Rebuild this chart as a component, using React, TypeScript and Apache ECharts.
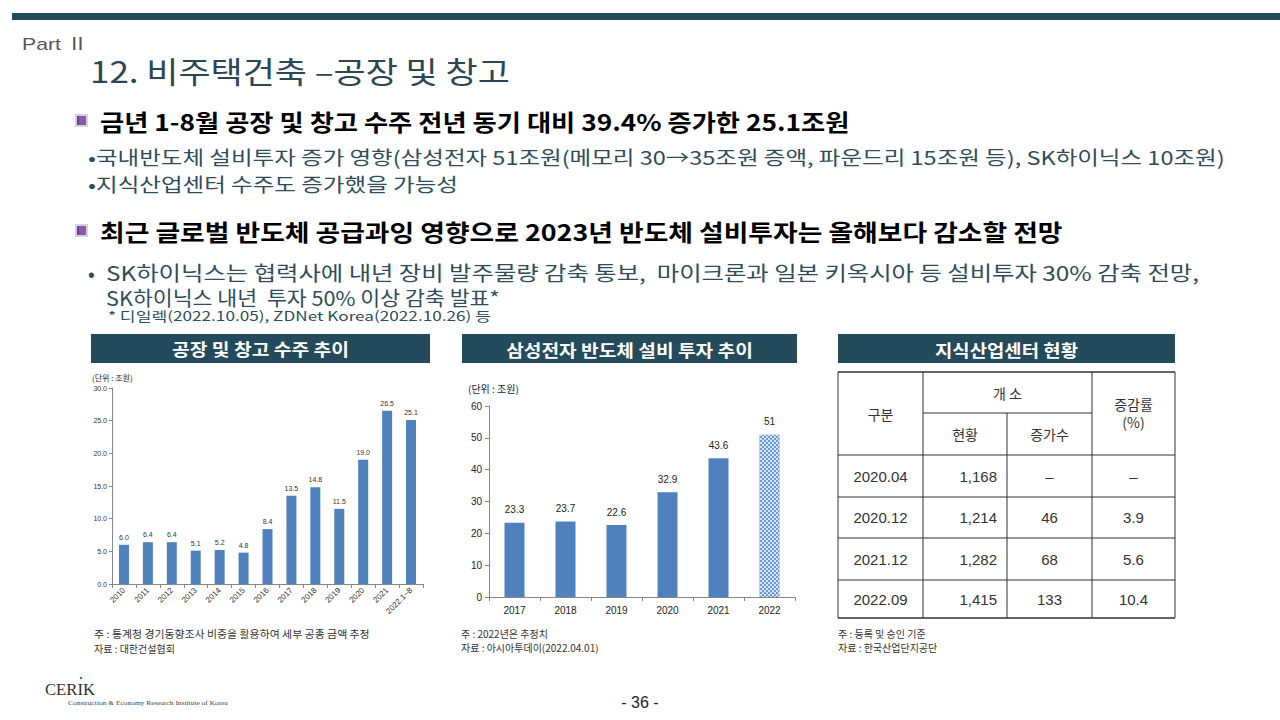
import React, { useEffect, useRef } from 'react';
import * as echarts from 'echarts';

// ---------- data ----------
const factoryCategories = ['2010', '2011', '2012', '2013', '2014', '2015', '2016', '2017', '2018', '2019', '2020', '2021', '2022.1~8'];
const factoryValues = [6.0, 6.4, 6.4, 5.1, 5.2, 4.8, 8.4, 13.5, 14.8, 11.5, 19.0, 26.5, 25.1];
const factoryAxis = { min: 0, max: 30, interval: 5 };

const samsungCategories = ['2017', '2018', '2019', '2020', '2021', '2022'];
const samsungValues = [23.3, 23.7, 22.6, 32.9, 43.6, 51];
const samsungEstimatedIndex = 5;
const samsungAxis = { min: 0, max: 60, interval: 10 };

const centerPeriods = ['2020.04', '2020.12', '2021.12', '2022.09'];
const centerCounts = ['1,168', '1,214', '1,282', '1,415'];
const centerIncrease = ['–', '46', '68', '133'];
const centerRate = ['–', '3.9', '5.6', '10.4'];

// ---------- helpers ----------
const KR = "'Noto Sans CJK KR', 'Noto Sans', sans-serif";
const LAT = "'Liberation Sans', 'Noto Sans CJK KR', sans-serif";
const SERIF = "'Liberation Serif', 'DejaVu Serif', serif";
const TEAL = '#244b5c';

let measureCtx: CanvasRenderingContext2D | null = null;
function measure(text: string, font: string) {
  if (!measureCtx) measureCtx = document.createElement('canvas').getContext('2d');
  measureCtx!.font = font;
  return measureCtx!.measureText(text).width;
}

function fitScale(text: string, size: number, width: number, weight = 'normal', family = KR) {
  const w = measure(text, `${weight} ${size}px ${family}`);
  return w > 0 ? width / w : 1;
}

function txt(text: string, x: number, y: number, o: any = {}) {
  const size = o.size || 12;
  const weight = o.weight || 'normal';
  const family = o.family || KR;
  let scaleX = o.scaleX || 1;
  if (o.width) scaleX = fitScale(text, size, o.width, weight, family);
  return {
    type: 'text',
    x,
    y,
    scaleX,
    z: 100,
    silent: true,
    style: {
      text,
      fontSize: size,
      fontWeight: weight,
      fontFamily: family,
      fill: o.color || '#000',
      align: o.align || 'left',
      verticalAlign: 'middle',
    },
  };
}

function hline(x1: number, x2: number, y: number, w = 1, color = '#333') {
  return { type: 'line', z: 90, silent: true, shape: { x1, y1: y, x2, y2: y }, style: { stroke: color, lineWidth: w } };
}
function vline(x: number, y1: number, y2: number, w = 1, color = '#333') {
  return { type: 'line', z: 90, silent: true, shape: { x1: x, y1, x2: x, y2 }, style: { stroke: color, lineWidth: w } };
}

function buildGraphic() {
  const g: any[] = [];
  // top bar
  g.push({ type: 'rect', shape: { x: 12, y: 13, width: 1268, height: 7 }, style: { fill: TEAL }, silent: true });
  g.push(txt('Part Ⅱ', 22, 44, { size: 17, family: LAT, color: '#555', width: 66 }));
  g.push(txt('12. 비주택건축 –공장 및 창고', 90, 70, { size: 30, color: '#2c4654', width: 420 }));

  // header icons
  const icon = (y: number) => [
    { type: 'rect', silent: true, shape: { x: 75, y: y - 7, width: 13, height: 13 }, style: { fill: '#d9cfe3' } },
    { type: 'rect', silent: true, shape: { x: 77, y: y - 5, width: 9, height: 9 }, style: { fill: '#8a5aa8' } },
    { type: 'rect', silent: true, shape: { x: 77, y: y - 5, width: 2, height: 9 }, style: { fill: '#6d3f8c' } },
  ];
  const subColor = '#2f4c5c';
  g.push(...icon(121));
  g.push(txt('금년 1-8월 공장 및 창고 수주 전년 동기 대비 39.4% 증가한 25.1조원', 100, 121, { size: 23, weight: 'bold', width: 750 }));
  g.push(txt('•국내반도체 설비투자 증가 영향(삼성전자 51조원(메모리 30→35조원 증액, 파운드리 15조원 등), SK하이닉스 10조원)', 88, 157, { size: 19, color: subColor, width: 1137 }));
  g.push(txt('•지식산업센터 수주도 증가했을 가능성', 88, 184, { size: 19, color: subColor, width: 370 }));

  g.push(...icon(231));
  g.push(txt('최근 글로벌 반도체 공급과잉 영향으로 2023년 반도체 설비투자는 올해보다 감소할 전망', 100, 231, { size: 23, weight: 'bold', width: 963 }));
  g.push(txt('•', 88, 272, { size: 20, color: subColor }));
  g.push(txt('SK하이닉스는 협력사에 내년 장비 발주물량 감축 통보,  마이크론과 일본 키옥시아 등 설비투자 30% 감축 전망,', 106, 272, { size: 20, color: subColor, width: 1094 }));
  g.push(txt('SK하이닉스 내년  투자 50% 이상 감축 발표*', 106, 297, { size: 20, color: subColor, width: 394 }));
  g.push(txt('* 디일렉(2022.10.05), ZDNet Korea(2022.10.26) 등', 108, 315, { size: 13, color: subColor, width: 383 }));

  // chart title bars
  const bars = [
    { x: 91, w: 339, t: '공장 및 창고 수주 추이', tw: 177 },
    { x: 462, w: 335, t: '삼성전자 반도체 설비 투자 추이', tw: 247 },
    { x: 838, w: 337, t: '지식산업센터 현황', tw: 143 },
  ];
  bars.forEach((b) => {
    g.push({ type: 'rect', silent: true, shape: { x: b.x, y: 334, width: b.w, height: 29 }, style: { fill: TEAL } });
    g.push(txt(b.t, b.x + b.w / 2, 349, { size: 17, weight: 'bold', color: '#fff', align: 'center', width: b.tw }));
  });

  // unit labels
  g.push(txt('(단위 : 조원)', 92, 377, { size: 8, color: '#222' }));
  g.push(txt('(단위 : 조원)', 468, 388, { size: 10, color: '#222' }));

  // table
  const cx = [838, 923, 1007, 1092, 1175];
  const ry = [372, 413, 455, 497, 538, 580, 618];
  g.push(hline(cx[0], cx[4], ry[0], 1.5));
  [2, 3, 4, 5].forEach((i) => g.push(hline(cx[0], cx[4], ry[i])));
  g.push(hline(cx[0], cx[4], ry[6], 1.5));
  g.push(hline(cx[1], cx[3], ry[1]));
  [0, 1, 3, 4].forEach((i) => g.push(vline(cx[i], ry[0], ry[6])));
  g.push(vline(cx[2], ry[1], ry[6]));

  const tc = '#333';
  g.push(txt('구분', (cx[0] + cx[1]) / 2, (ry[0] + ry[2]) / 2, { size: 14, color: tc, align: 'center' }));
  g.push(txt('개 소', (cx[1] + cx[3]) / 2, (ry[0] + ry[1]) / 2, { size: 14, color: tc, align: 'center' }));
  g.push(txt('증감률', (cx[3] + cx[4]) / 2, 404, { size: 14, color: tc, align: 'center' }));
  g.push(txt('(%)', (cx[3] + cx[4]) / 2, 422, { size: 14, color: tc, align: 'center' }));
  g.push(txt('현황', (cx[1] + cx[2]) / 2, (ry[1] + ry[2]) / 2, { size: 14, color: tc, align: 'center' }));
  g.push(txt('증가수', (cx[2] + cx[3]) / 2, (ry[1] + ry[2]) / 2, { size: 14, color: tc, align: 'center' }));
  centerPeriods.forEach((p, i) => {
    const y = (ry[2 + i] + ry[3 + i]) / 2;
    g.push(txt(p, (cx[0] + cx[1]) / 2, y, { size: 15, family: LAT, color: tc, align: 'center' }));
    g.push(txt(centerCounts[i], cx[2] - 10, y, { size: 15, family: LAT, color: tc, align: 'right' }));
    g.push(txt(centerIncrease[i], (cx[2] + cx[3]) / 2, y, { size: 15, family: LAT, color: tc, align: 'center' }));
    g.push(txt(centerRate[i], (cx[3] + cx[4]) / 2, y, { size: 15, family: LAT, color: tc, align: 'center' }));
  });

  // footnotes
  const fn = '#333';
  g.push(txt('주 : 통계청 경기동향조사 비중을 활용하여 세부 공종 금액 추정', 94, 634, { size: 10, color: fn, width: 276 }));
  g.push(txt('자료 : 대한건설협회', 94, 648, { size: 10, color: fn }));
  g.push(txt('주 : 2022년은 추정치', 461, 633, { size: 10, color: fn }));
  g.push(txt('자료 : 아시아투데이(2022.04.01)', 461, 647, { size: 10, color: fn }));
  g.push(txt('주 : 등록 및 승인 기준', 838, 633, { size: 10, color: fn }));
  g.push(txt('자료 : 한국산업단지공단', 838, 647, { size: 10, color: fn }));

  // logo
  g.push(txt('CERIK', 45, 690, { size: 16, family: SERIF, color: '#333', width: 50 }));
  g.push({ type: 'circle', silent: true, shape: { cx: 81, cy: 678, r: 1.2 }, style: { fill: '#c0392b' } });
  g.push(txt('Construction & Economy Research Institute of Korea', 68, 703, { size: 7, family: SERIF, color: '#444', width: 160 }));

  // page number
  g.push(txt('- 36 -', 640, 702, { size: 16, family: LAT, color: '#222', align: 'center' }));
  return g;
}

export default function App() {
  const ref = useRef<HTMLDivElement>(null);
  useEffect(() => {
    if (!ref.current) return;
    const chart = echarts.init(ref.current, undefined, { renderer: 'svg' });
    const axisColor = '#868686';
    const option: any = {
      animation: false,
      backgroundColor: '#ffffff',
      grid: [
        { left: 112, top: 388, width: 311, height: 196 },
        { left: 489, top: 406, width: 306, height: 191 },
      ],
      xAxis: [
        {
          type: 'category',
          gridIndex: 0,
          data: factoryCategories,
          axisLine: { lineStyle: { color: axisColor } },
          axisTick: { show: true, alignWithLabel: false, length: 4, lineStyle: { color: axisColor } },
          axisLabel: { interval: 0, rotate: 45, fontSize: 8, color: '#333', margin: 5, fontFamily: LAT },
        },
        {
          type: 'category',
          gridIndex: 1,
          data: samsungCategories,
          axisLine: { lineStyle: { color: axisColor } },
          axisTick: { show: true, alignWithLabel: false, length: 4, lineStyle: { color: axisColor } },
          axisLabel: { interval: 0, fontSize: 10, color: '#222', margin: 8, fontFamily: LAT },
        },
      ],
      yAxis: [
        {
          type: 'value',
          gridIndex: 0,
          min: factoryAxis.min,
          max: factoryAxis.max,
          interval: factoryAxis.interval,
          axisLine: { show: true, lineStyle: { color: axisColor } },
          axisTick: { show: true, length: 3, lineStyle: { color: axisColor } },
          splitLine: { show: false },
          axisLabel: { fontSize: 7, color: '#333', margin: 5, fontFamily: LAT, formatter: (v: number) => v.toFixed(1) },
        },
        {
          type: 'value',
          gridIndex: 1,
          min: samsungAxis.min,
          max: samsungAxis.max,
          interval: samsungAxis.interval,
          axisLine: { show: true, lineStyle: { color: axisColor } },
          axisTick: { show: true, length: 4, lineStyle: { color: axisColor } },
          splitLine: { show: false },
          axisLabel: { fontSize: 10, color: '#222', margin: 7, fontFamily: LAT },
        },
      ],
      series: [
        {
          type: 'bar',
          xAxisIndex: 0,
          yAxisIndex: 0,
          data: factoryValues,
          barWidth: 10,
          itemStyle: { color: '#4f81bd' },
          label: {
            show: true,
            position: 'top',
            distance: 4,
            fontSize: 7,
            color: '#333',
            fontFamily: LAT,
            formatter: (p: any) => Number(p.value).toFixed(1),
          },
        },
        {
          type: 'bar',
          xAxisIndex: 1,
          yAxisIndex: 1,
          data: samsungValues.map((v, i) =>
            i === samsungEstimatedIndex
              ? {
                  value: v,
                  itemStyle: {
                    color: '#6a97d6',
                    decal: {
                      symbol: 'rect',
                      symbolSize: 1,
                      color: '#d6e4f6',
                      dashArrayX: [[2, 2], [0, 2, 2, 0]],
                      dashArrayY: [2, 0],
                      rotation: 0,
                    },
                  },
                }
              : v
          ),
          barWidth: 20,
          itemStyle: { color: '#4f81bd' },
          label: {
            show: true,
            position: 'top',
            distance: 8,
            fontSize: 10,
            color: '#222',
            fontFamily: LAT,
            formatter: (p: any) => String(p.value),
          },
        },
      ],
      graphic: buildGraphic(),
    };
    chart.setOption(option);
    return () => chart.dispose();
  }, []);
  return <div ref={ref} style={{ position: 'absolute', left: 0, top: 0, width: 1280, height: 720 }} />;
}
